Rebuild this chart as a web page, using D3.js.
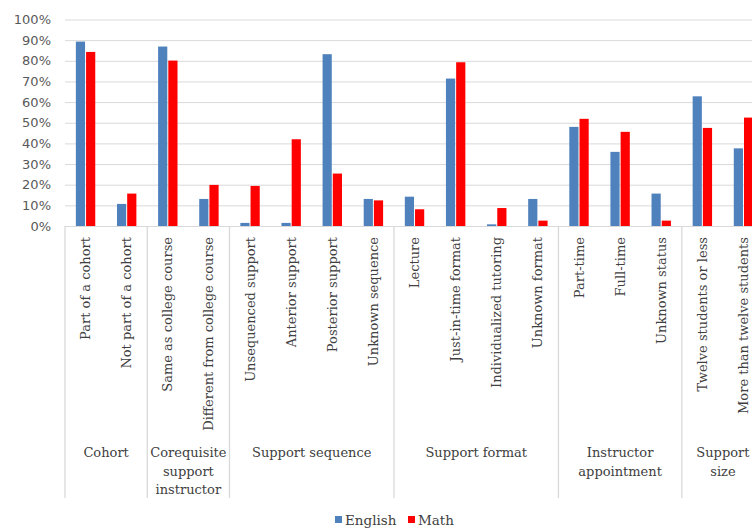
<!DOCTYPE html>
<html><head><meta charset="utf-8">
<script src="https://cdn.jsdelivr.net/npm/d3@7"></script>
<style>body{margin:0;background:#fff;overflow:hidden}</style>
</head><body>
<svg id="c" width="752" height="529"></svg>
<script>
const categories = ["Part of a cohort","Not part of a cohort","Same as college course","Different from college course","Unsequenced support","Anterior support","Posterior support","Unknown sequence","Lecture","Just-in-time format","Individualized tutoring","Unknown format","Part-time","Full-time","Unknown status","Twelve students or less","More than twelve students"];
const english = [89.3,10.7,86.9,13.1,1.5,1.5,83.2,13.1,14.2,71.4,0.8,13.1,48.0,35.9,15.7,62.8,37.6];
const math = [84.3,15.7,80.1,19.9,19.4,42.0,25.4,12.4,8.1,79.3,8.7,2.6,51.9,45.6,2.6,47.5,52.5];
const groups = [["Cohort"],["Corequisite","support","instructor"],["Support sequence"],["Support format"],["Instructor","appointment"],["Support","size"]];
const groupSizes = [2,2,4,4,3,2];
const seriesNames = ["English","Math"];
const seriesColors = ["#4f81bd","#ff0000"];
const yTicks = [0,10,20,30,40,50,60,70,80,90,100];

const svg = d3.select("#c");
const left = 65, slot = 41.12, y0 = 226, y100 = 19.5, axisBottom = 498;
const x = d3.scaleBand().domain(categories).range([left, left + slot*categories.length]).padding(0);
const xs = d3.scaleBand().domain(seriesNames).range([-9.7, 9.7]).paddingInner(0.1);
const y = d3.scaleLinear().domain([0,100]).range([y0, y100]);

// gridlines + ticks
const ya = svg.append("g").attr("transform", `translate(${left},0)`)
  .call(d3.axisLeft(y).tickValues(yTicks).tickSize(-(752-left)).tickPadding(14).tickFormat(d => d + "%"));
ya.select(".domain").remove();
ya.selectAll(".tick line").attr("stroke", "#d9d9d9").attr("stroke-width", 1);
ya.selectAll(".tick text").attr("fill", "#595959").style("font-family", "DejaVu Sans, Verdana, sans-serif").style("font-size", "13px");

// bars
const data = categories.map((c,i) => ({c, vals:[english[i], math[i]]}));
const cg = svg.append("g").selectAll("g").data(data).join("g")
  .attr("transform", d => `translate(${x(d.c) + x.bandwidth()/2},0)`);
cg.selectAll("rect").data(d => d.vals.map((v,j) => ({v, s:seriesNames[j], col:seriesColors[j]}))).join("rect")
  .attr("x", d => xs(d.s)).attr("width", xs.bandwidth())
  .attr("y", d => y(d.v)).attr("height", d => y0 - y(d.v))
  .attr("fill", d => d.col);

// dividers
let idx = 0; const starts = [];
groupSizes.forEach(n => { starts.push(idx); idx += n; });
const divX = starts.map(s => x(categories[s])).concat([x.range()[1]]);
svg.append("g").selectAll("line").data(divX).join("line")
  .attr("x1", d => d).attr("x2", d => d).attr("y1", y0).attr("y2", axisBottom)
  .attr("stroke", "#d9d9d9").attr("stroke-width", 1.3);

// category labels
const labFont = "DejaVu Serif, Cambria, serif";
svg.append("g").selectAll("text").data(categories).join("text")
  .attr("transform", d => `translate(${x(d) + x.bandwidth()/2 + 4.5},237) rotate(-90)`)
  .attr("text-anchor", "end")
  .attr("fill", "#404040").style("font-family", labFont).style("font-size", "13px")
  .text(d => d);

// group labels
const gt = svg.append("g").selectAll("text").data(groups).join("text")
  .attr("x", (d,i) => (divX[i] + divX[i+1]) / 2)
  .attr("y", 457)
  .attr("text-anchor", "middle").attr("fill", "#404040")
  .style("font-family", labFont).style("font-size", "13px");
gt.selectAll("tspan").data(d => d).join("tspan")
  .attr("x", function(){ return this.parentNode.getAttribute("x"); })
  .attr("dy", (d,i) => i === 0 ? 0 : 18.5)
  .text(d => d);

// legend
const legX = [335, 408];
const lg = svg.append("g").selectAll("g").data(seriesNames).join("g")
  .attr("transform", (d,i) => `translate(${legX[i]},0)`);
lg.append("rect").attr("x", 0).attr("y", 516).attr("width", 7).attr("height", 7).attr("fill", (d,i) => seriesColors[i]);
lg.append("text").attr("x", 10).attr("y", 525).attr("fill", "#404040")
  .style("font-family", labFont).style("font-size", "13.5px").text(d => d);
</script>
</body></html>
